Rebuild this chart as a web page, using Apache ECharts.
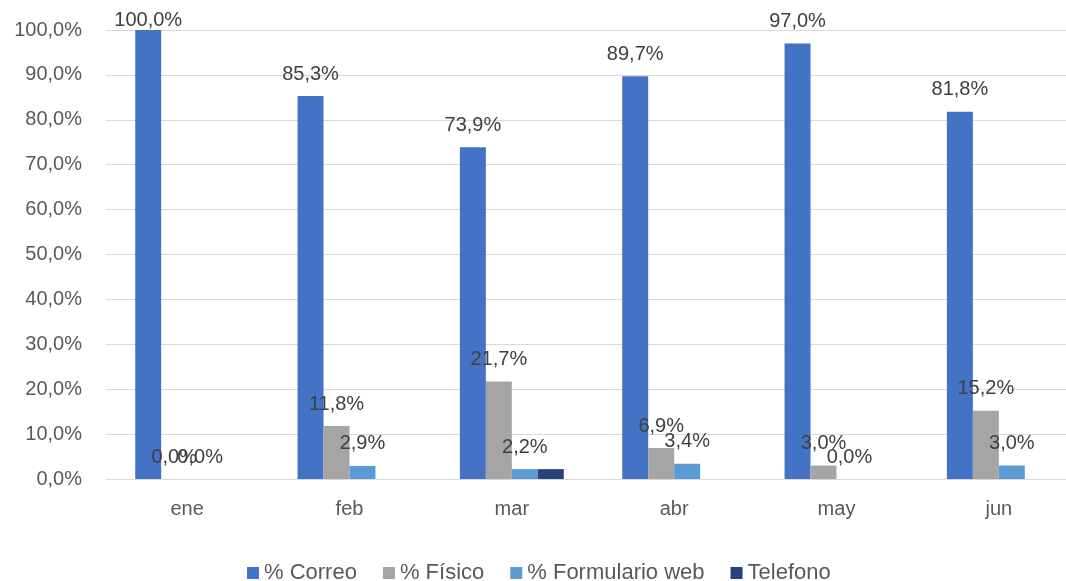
<!DOCTYPE html>
<html>
<head>
<meta charset="utf-8">
<script src="https://cdn.jsdelivr.net/npm/echarts@6/dist/echarts.min.js"></script>
<style>html,body{margin:0;padding:0;background:#fff;overflow:hidden}#c{width:1080px;height:581px}</style>
</head>
<body>
<div id="c"></div>
<script>
var categories = ['ene', 'feb', 'mar', 'abr', 'may', 'jun'];
var correo = [100.0, 85.3, 73.9, 89.7, 97.0, 81.8];
var fisico = [0.0, 11.8, 21.7, 6.9, 3.0, 15.2];
var formulario = [0.0, 2.9, 2.2, 3.4, 0.0, 3.0];
var telefono = [null, null, 2.2, null, null, null];
var seriesNames = ['% Correo', '% Físico', '% Formulario web', 'Telefono'];
var colors = ['#4472C4', '#A5A5A5', '#5B9BD5', '#264478'];

var FONT = 'Liberation Sans, Arial, sans-serif';
function fmt(v) { return v.toFixed(1).replace('.', ',') + '%'; }

var chart = echarts.init(document.getElementById('c'));
function mk(name, data, color, showLabel) {
  return {
    name: name, type: 'bar',
    data: data.map(function (v) {
      // labels that would leave the chart area are kept inside, as the original does
      if (v !== null && v > 97.5) return { value: v, label: { offset: [0, 12] } };
      return v;
    }),
    barGap: '0%', barCategoryGap: '36%',
    itemStyle: { color: color },
    label: {
      show: showLabel, position: 'top', distance: 12,
      color: '#404040', fontSize: 20, fontFamily: FONT,
      formatter: function (p) { return fmt(p.value); }
    }
  };
}
chart.setOption({
  animation: false,
  color: colors,
  grid: { left: 106, right: 0, top: 30, bottom: 102, containLabel: false },
  xAxis: {
    type: 'category', data: categories,
    axisLine: { show: true, lineStyle: { color: '#D9D9D9', width: 1 } },
    axisTick: { show: false },
    axisLabel: { color: '#595959', fontSize: 20, fontFamily: FONT, margin: 20 }
  },
  yAxis: {
    type: 'value', min: 0, max: 100, interval: 10,
    axisLine: { show: false }, axisTick: { show: false },
    splitLine: { lineStyle: { color: '#D9D9D9', width: 1 } },
    axisLabel: { color: '#595959', fontSize: 20, fontFamily: FONT, margin: 24,
      formatter: function (v) { return fmt(v); } }
  },
  legend: {
    top: 557, left: 242, itemWidth: 12, itemHeight: 12, itemGap: 26,
    icon: 'rect',
    textStyle: { color: '#595959', fontSize: 22, fontFamily: FONT },
    data: seriesNames
  },
  series: [
    mk(seriesNames[0], correo, colors[0], true),
    mk(seriesNames[1], fisico, colors[1], true),
    mk(seriesNames[2], formulario, colors[2], true),
    mk(seriesNames[3], telefono, colors[3], false)
  ]
});
</script>
</body>
</html>
